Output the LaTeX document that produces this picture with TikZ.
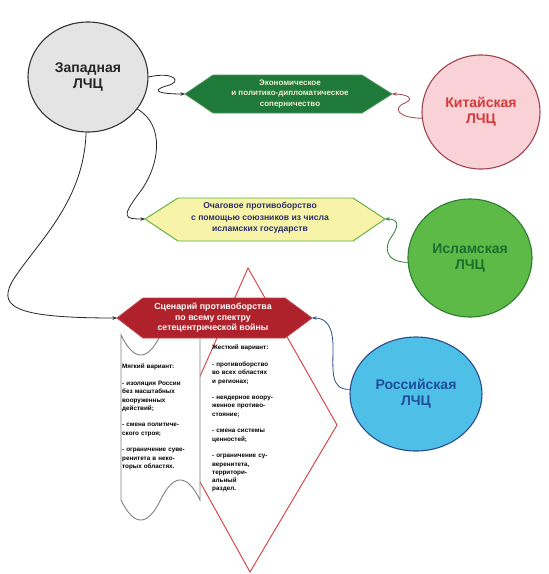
\documentclass[tikz,border=0pt]{standalone}
\usepackage{fontspec}
\setmainfont{Liberation Sans}
\usetikzlibrary{shapes.geometric,arrows.meta}
\definecolor{wfill}{HTML}{E4E4E4}
\definecolor{cfill}{HTML}{F8D2D6}
\definecolor{cdraw}{HTML}{A04450}
\definecolor{ctext}{HTML}{D43A3A}
\definecolor{ifill}{HTML}{5DBA47}
\definecolor{idraw}{HTML}{2F7D33}
\definecolor{itext}{HTML}{1E6E2E}
\definecolor{rfill}{HTML}{4EC0E8}
\definecolor{rdraw}{HTML}{2C4C8C}
\definecolor{rtext}{HTML}{1F4E9A}
\definecolor{gfill}{HTML}{1F7A3A}
\definecolor{gtext}{HTML}{EFF0C8}
\definecolor{yfill}{HTML}{F7F4AA}
\definecolor{ydraw}{HTML}{5BAE3C}
\definecolor{ytext}{HTML}{2B2F6B}
\definecolor{redfill}{HTML}{B0222B}
\definecolor{kite}{HTML}{D83A3A}
\definecolor{scroll}{HTML}{808080}
\tikzset{
  civ/.style={ellipse, inner sep=0pt, line width=1.1pt, font=\fontsize{14}{16}\selectfont\bfseries, align=center},
  hextext/.style={align=center, font=\fontsize{8.3}{10.8}\selectfont\bfseries, inner sep=0pt},
  smalltext/.style={anchor=north west, align=left, inner sep=0pt, text width=80pt,
     font=\fontsize{6.3}{8.3}\selectfont\bfseries},
  conn/.style={line width=0.8pt, -{Stealth[length=4.5pt,width=3.5pt]}},
}
\begin{document}
\begin{tikzpicture}[x=1pt,y=-1pt]
\useasboundingbox (0,0) rectangle (549,574);
\fill[white] (0,0) rectangle (549,574);

% circles
\node[civ, fill=wfill, draw=black!80, minimum width=120pt, minimum height=110pt, text=black!85] (W) at (88,77) {Западная\\ЛЧЦ};
\node[civ, fill=cfill, draw=cdraw, minimum width=118pt, minimum height=114pt, text=ctext] (C) at (481,112) {Китайская\\ЛЧЦ};
\node[civ, fill=ifill, draw=idraw, minimum width=124pt, minimum height=118pt, text=itext] (I) at (470,258) {Исламская\\ЛЧЦ};
\node[civ, fill=rfill, draw=rdraw, minimum width=132pt, minimum height=114pt, text=rtext] (R) at (416,394) {Российская\\ЛЧЦ};

% kite (hard variant)
\draw[kite, fill=white, line width=0.9pt] (248,268) -- (337,425) -- (250,572) -- (174,435) -- cycle;
% scroll (soft variant)
\draw[scroll, fill=white, line width=0.9pt] (121,335) -- (121,500)
  .. controls (134,526.7) and (147.5,526.7) .. (160.5,500)
  .. controls (173.5,473.3) and (187,473.3) .. (200,500)
  -- (200,335)
  .. controls (187,308.3) and (173.5,308.3) .. (160.5,335)
  .. controls (147.5,361.7) and (134,361.7) .. (121,335) -- cycle;

\node[smalltext] (soft) at (122,364) {Мягкий вариант:\\[8.3pt]
- изоляция России\\без масштабных\\вооруженных\\действий;\\[8.3pt]
- смена политиче-\\ского строя;\\[8.3pt]
- ограничение суве-\\ренитета в неко-\\торых областях.};
\node[smalltext] (hard) at (212,345) {Жесткий вариант:\\[8.3pt]
- противоборство\\во всех областях\\и регионах;\\[8.3pt]
- неядерное воору-\\женное противо-\\стояние;\\[8.3pt]
- смена системы\\ценностей;\\[8.3pt]
- ограничение су-\\веренитета,\\территори-\\альный\\раздел.};

% green hexagon
\coordinate (gL) at (185,94);
\coordinate (gR) at (392,94);
\filldraw[fill=gfill, draw=gfill!80!white, line width=0.8pt] (gL) -- (213,75) -- (362,75) -- (gR) -- (362,113) -- (213,113) -- cycle;
\node[hextext, text=gtext, font=\fontsize{8}{10.6}\selectfont\bfseries] (gT) at (290,94) {Экономическое\\и политико-дипломатическое\\соперничество};

% yellow hexagon
\coordinate (yL) at (145,219);
\coordinate (yR) at (385,219);
\filldraw[fill=yfill, draw=ydraw, line width=0.9pt] (yL) -- (178,198) -- (353,198) -- (yR) -- (353,241) -- (178,241) -- cycle;
\node[hextext, text=ytext, font=\fontsize{8.6}{11.5}\selectfont\bfseries] (yT) at (260,218) {Очаговое противоборство\\с помощью союзников из числа\\исламских государств};

% red hexagon
\coordinate (rL) at (117,318);
\coordinate (rR) at (312,318);
\filldraw[fill=redfill, draw=redfill!85!white, line width=0.8pt] (rL) -- (143,298) -- (285,298) -- (rR) -- (285,338) -- (143,338) -- cycle;
\node[hextext, text=white, font=\fontsize{8.8}{10.6}\selectfont\bfseries] (rT) at (213,318) {Сценарий противоборства\\по всему спектру\\сетецентрической войны};

% connectors
\draw[conn, black!85] (W.east) .. controls (174,71) and (184,82) .. (166,86)
   .. controls (150,91) and (160,94) .. (gL);
\draw[conn, cdraw] (C.186) .. controls (398,118) and (392,108) .. (405,103)
   .. controls (416,98) and (405,94) .. (gR);
\draw[conn, black!85] (W.-33) .. controls (165,125) and (160,165) .. (140,192)
   .. controls (120,218) and (125,219) .. (yL);
\draw[conn, idraw] (I.184) .. controls (384,262) and (384,246) .. (392,236)
   .. controls (401,223) and (396,219) .. (yR);
\draw[conn, black!85] (W.-92) .. controls (84,200) and (40,240) .. (15,277)
   .. controls (-4,306) and (10,318) .. (rL);
\draw[conn, rdraw] (R.176) .. controls (330,390) and (333,370) .. (333,347)
   .. controls (333,326) and (326,318) .. (rR);
\end{tikzpicture}
\end{document}
